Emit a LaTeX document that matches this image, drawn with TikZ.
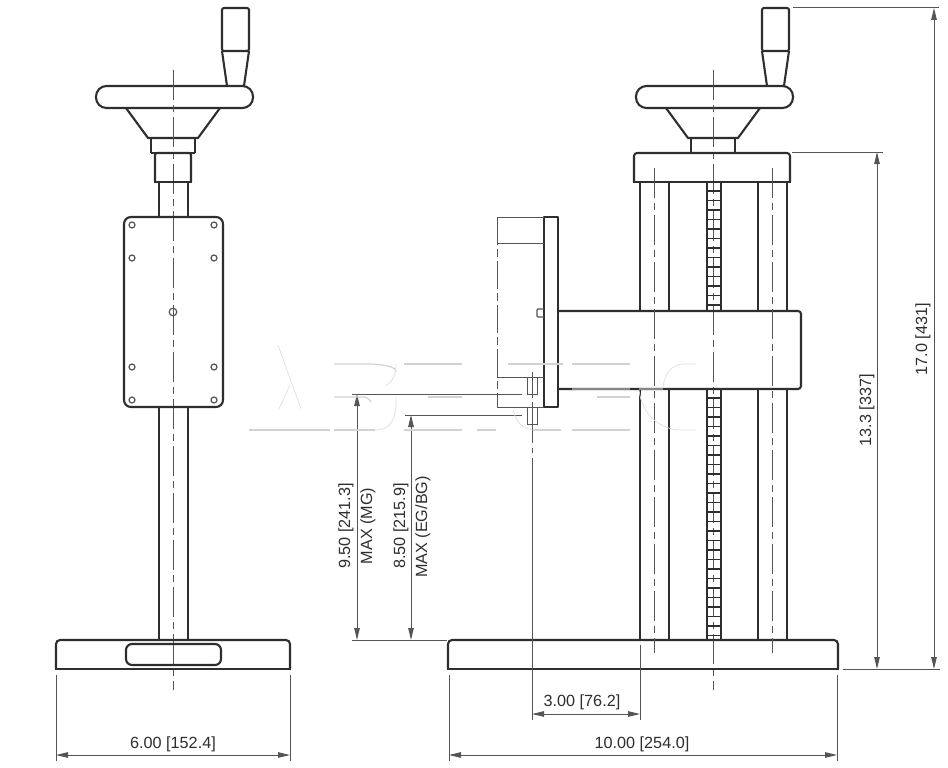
\documentclass[tikz,border=0pt]{standalone}
\usepackage{fontspec}
\setmainfont{Liberation Sans}
\usetikzlibrary{arrows.meta}
\definecolor{ink}{HTML}{2E2E2E}
\definecolor{dimc}{HTML}{555555}
\definecolor{wm}{HTML}{D2D2D2}
\tikzset{
  heavy/.style={draw=ink,line width=2.1pt,line join=round},
  thinl/.style={draw=dimc,line width=1pt},
  center/.style={draw=dimc,line width=1pt,dash pattern=on 30pt off 5pt on 7pt off 5pt},
  dimline/.style={draw=dimc,line width=1pt,{Triangle[length=12pt,width=5.5pt]}-{Triangle[length=12pt,width=5.5pt]}},
  label/.style={text=ink,font=\fontsize{16.2}{19}\selectfont,inner sep=0pt},
  wmark/.style={draw=wm,line width=1.2pt},
  wmarkthin/.style={draw=wm!70,line width=0.7pt},
}
\newcommand{\handwheel}[1]{%
  \begin{scope}[xshift=#1pt]
    \draw[heavy,rounded corners=2pt] (222,51) -- (222,8) -- (249,8) -- (249,51) -- cycle;
    \draw[heavy] (222,51) -- (227,86);
    \draw[heavy] (249,51) -- (244,86);
    \draw[heavy,rounded corners=10.5pt] (96,86) rectangle (253,108);
    \draw[heavy] (126,108) -- (148,138) -- (198,138) -- (220,108);
    \draw[heavy] (151,138) -- (151,153);
    \draw[heavy] (195,138) -- (195,153);
    \draw[center] (173,70) -- (173,690);
  \end{scope}}
\begin{document}
\begin{tikzpicture}[x=1pt,y=-1pt]
\useasboundingbox (0,0) rectangle (948,768);
\fill[white] (0,0) rectangle (948,768);
% ---------- left view
\handwheel{0}
\draw[heavy] (151,153) -- (195,153);
\draw[heavy,rounded corners=2pt] (155,182) -- (155,153) -- (191,153) -- (191,182);
\draw[heavy] (154,182) -- (192,182);
\draw[heavy] (159,182) -- (159,217);
\draw[heavy] (188,182) -- (188,217);
\draw[heavy] (159,408) -- (159,640);
\draw[heavy] (188,408) -- (188,640);
\draw[heavy,rounded corners=7pt] (124,217) rectangle (223,407);
\foreach \hx in {132,214}{
  \foreach \hy in {225,258,367,400}{
    \draw[thinl,line width=1.2pt] (\hx,\hy) circle (3pt);
  }
}
\draw[thinl,line width=1.2pt] (173,312) circle (3.8pt);
\draw[heavy,rounded corners=4pt] (56,669) -- (56,640) -- (290,640) -- (290,669);
\draw[heavy] (55,669) -- (291,669);
\draw[heavy,rounded corners=6pt] (126,644) rectangle (221,665);
% ---------- right view
\handwheel{540}
\draw[heavy,rounded corners=3pt] (634,182) -- (634,153) -- (790,153) -- (790,182);
\draw[heavy] (633,182) -- (791,182);
\foreach \cx in {640,669,758,787}{
  \draw[heavy] (\cx,182) -- (\cx,311);
  \draw[heavy] (\cx,389) -- (\cx,640);
}
\draw[heavy] (707,182) -- (707,311);
\draw[heavy] (721,182) -- (721,311);
\draw[heavy] (707,389) -- (707,640);
\draw[heavy] (721,389) -- (721,640);
\foreach \ry in {191,200.5,210,219.5,229,238.5,248,257.5,267,276.5,286,295.5,305}{
  \draw[heavy,line width=1.8pt] (707,\ry) -- (721,\ry);
}
\foreach \ry in {398,407.5,417,426.5,436,445.5,455,464.5,474,483.5,493,502.5,512,521.5,531,540.5,550,559.5,569,578.5,588,597.5,607,616.5,626,635.5}{
  \draw[heavy,line width=1.8pt] (707,\ry) -- (721,\ry);
}
\draw[heavy,rounded corners=3pt] (558,311) -- (801,311) -- (801,389) -- (558,389);
\draw[heavy] (544,217) rectangle (558,407);
\draw[thinl,line width=1.2pt,rounded corners=1pt] (544,309) -- (537,309) -- (537,317) -- (544,317);
\draw[heavy,rounded corners=4pt] (448,669) -- (448,640) -- (838,640) -- (838,669);
\draw[heavy] (447,669) -- (839,669);
\draw[center] (654,168) -- (654,653);
\draw[center] (772,168) -- (772,653);
% mounted instrument outline
\draw[thinl] (497,217) -- (544,217);
\draw[thinl] (497,243) -- (544,243);
\draw[thinl] (497,377) -- (544,377);
\draw[thinl] (497,407) -- (544,407);
\draw[center,dash pattern=on 28pt off 4pt on 8pt off 4pt] (497,217) -- (497,407);
\draw[thinl] (527,377) rectangle (537,394);
\draw[thinl] (527,407) rectangle (537,424);
\draw[thinl] (532,372) -- (532,398) (532,402) -- (532,443) (532,448) -- (532,453) (532,458) -- (532,720);
% ---------- dimensions
\coordinate (ext17a) at (793,8);  \coordinate (ext17b) at (939,8);
\coordinate (ext13a) at (792,152); \coordinate (ext13b) at (883,152);
\coordinate (extba) at (843,669); \coordinate (extbb) at (940,669);
\draw[thinl] (ext17a) -- (ext17b);
\draw[thinl] (ext13a) -- (ext13b);
\draw[thinl] (extba) -- (extbb);
\draw[dimline] (934,8) -- (934,669);
\draw[dimline] (877,152) -- (877,669);
\node[label,rotate=90] (d17) at (923,339) {17.0 [431]};
\node[label,rotate=90] (d13) at (867,410) {13.3 [337]};

\draw[thinl] (352,394) -- (522,394);
\draw[thinl] (405,415) -- (522,415);
\draw[thinl] (352,640) -- (447,640);
\draw[dimline] (357,394) -- (357,640);
\draw[dimline] (411,415) -- (411,640);
\node[label,rotate=90] (d950) at (346,526) {9.50 [241.3]};
\node[label,rotate=90] (mg) at (368,526) {MAX (MG)};
\node[label,rotate=90] (d850) at (401,526) {8.50 [215.9]};
\node[label,rotate=90] (eg) at (423,527) {MAX (EG/BG)};

\draw[thinl] (56,675) -- (56,761);
\draw[thinl] (290,675) -- (290,761);
\draw[dimline] (56,755) -- (290,755);
\node[label] (d600) at (173,744) {6.00 [152.4]};

\draw[thinl] (449,675) -- (449,761);
\draw[thinl] (837,675) -- (837,761);
\draw[dimline] (449,755) -- (837,755);
\node[label] (d1000) at (642,744) {10.00 [254.0]};

\draw[thinl] (640,645) -- (640,720);
\draw[dimline] (532,714) -- (640,714);
\node[label] (d300) at (582,702.5) {3.00 [76.2]};
% ---------- watermark fragments
\draw[wmarkthin] (278,345) -- (301,409);
\draw[wmarkthin] (290,385) -- (279,409);
\draw[wmark] (249,430) -- (330,430);
\draw[wmark] (334,364) -- (367,364) .. controls (380,364) and (397,366) .. (396,372);
\draw[wmarkthin] (396,364) .. controls (396,375) and (392,383) .. (385,386);
\draw[wmark] (334,397) -- (365,397) .. controls (368,398) and (370,400) .. (371,402);
\draw[wmark] (334,430) -- (375,430);
\draw[wmarkthin] (375,430) .. controls (390,430) and (397,420) .. (396,397);
\draw[wmark] (404,364) -- (462,364);
\draw[wmark] (428,397) -- (462,397);
\draw[wmark] (404,430) -- (462,430);
\draw[wmark] (477,430) -- (496,430);
\draw[wmark] (508,364) -- (563,364);
\draw[wmark] (572,364) -- (630,364);
\draw[wmark] (597,397) -- (630,397);
\draw[wmark] (533,430) -- (561,430);
\draw[wmark] (572,430) -- (630,430);
\draw[wmarkthin] (513,410) .. controls (516,422) and (522,428) .. (533,430);
\draw[wmarkthin] (696,364) -- (684,364) .. controls (672,364) and (664,374) .. (663,388);
\draw[wmarkthin] (639,390) .. controls (642,415) and (660,430) .. (682,430) -- (696,430);
\draw[draw=wm!40!dimc,line width=2.1pt] (572,389) -- (630,389);
\draw[draw=wm!40!dimc,line width=2.1pt] (639,389) -- (663,389);
\end{tikzpicture}
\end{document}
